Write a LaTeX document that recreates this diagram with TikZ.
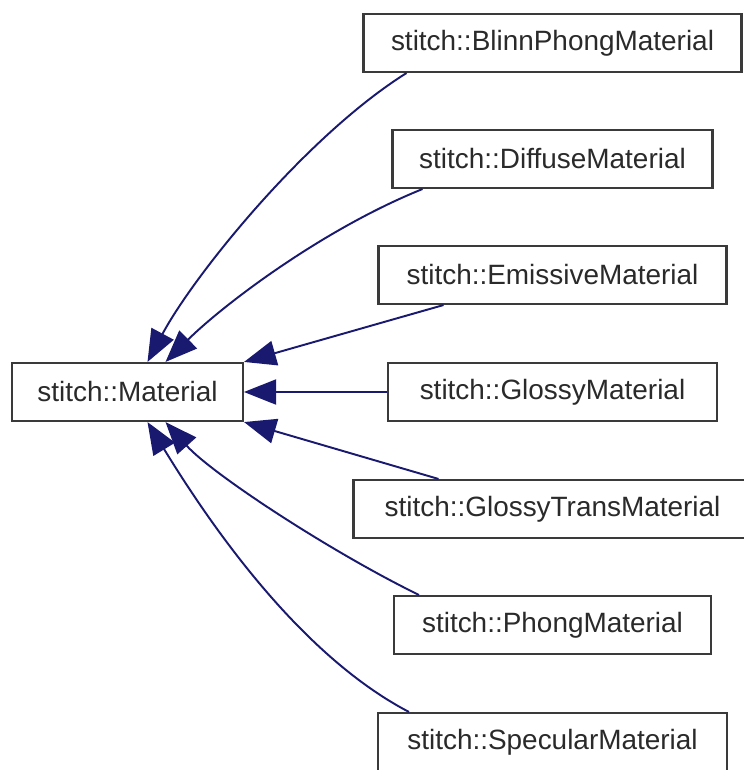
\documentclass[tikz,border=0pt]{standalone}
\usepackage{fontspec}
\setmainfont{Liberation Sans}
\usepackage{tikz}
\usetikzlibrary{arrows.meta, positioning}
\definecolor{edgeblue}{HTML}{191970}
\definecolor{boxgray}{HTML}{3A3A3A}
\definecolor{textgray}{HTML}{2A2A2A}

\tikzset{
    classbox/.style={draw=boxgray, line width=1.2pt, fill=white, inner xsep=0.3cm,
                     minimum height=1.16cm, text=textgray,
                     font=\fontsize{15.9}{19}\selectfont},
    inherit/.style={draw=edgeblue, line width=1.1pt,
                    -{Triangle[length=0.64cm, width=0.5cm]}}
}

\begin{document}
\begin{tikzpicture}[x=0.02cm, y=-0.02cm]
    \useasboundingbox (0,0) rectangle (743,770);

    % base class
    \node[classbox, minimum width=4.62cm] (mat) at (127.5, 392) {stitch::Material};

    % derived classes
    \node[classbox, minimum width=7.56cm] (blinn)  at (552.5, 43)  {stitch::BlinnPhongMaterial};
    \node[classbox, minimum width=6.40cm] (diff)   at (552.5, 159) {stitch::DiffuseMaterial};
    \node[classbox, minimum width=6.96cm] (emis)   at (552.5, 275) {stitch::EmissiveMaterial};
    \node[classbox, minimum width=6.58cm] (glossy) at (552.5, 392) {stitch::GlossyMaterial};
    \node[classbox, minimum width=7.96cm] (gtrans) at (552.5, 509) {stitch::GlossyTransMaterial};
    \node[classbox, minimum width=6.34cm] (phong)  at (552.5, 625) {stitch::PhongMaterial};
    \node[classbox, minimum width=6.98cm] (spec)   at (552.5, 742) {stitch::SpecularMaterial};

    % inheritance edges
    \draw[inherit] ([shift={(44,0)}]blinn.south west) .. controls (306,136) and (194,275) .. ([shift={(20,0)}]mat.north);
    \draw[inherit] ([shift={(31,0)}]diff.south west) .. controls (321,230) and (222,306) .. ([shift={(38,0)}]mat.north);
    \draw[inherit] ([shift={(66,0)}]emis.south west) -- (mat.north east);
    \draw[inherit] (glossy.west) -- (mat.east);
    \draw[inherit] ([shift={(86,0)}]gtrans.north west) -- (mat.south east);
    \draw[inherit] ([shift={(26,0)}]phong.north west) .. controls (331,552) and (212,474) .. ([shift={(38,0)}]mat.south);
    \draw[inherit] ([shift={(32,0)}]spec.north west) .. controls (296,653) and (205,516) .. ([shift={(20,0)}]mat.south);
\end{tikzpicture}
\end{document}
